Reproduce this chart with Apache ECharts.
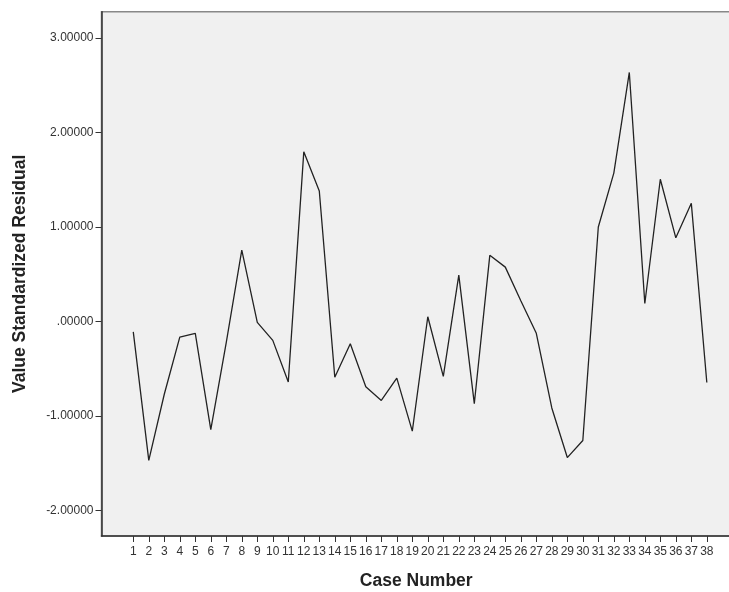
<!DOCTYPE html>
<html>
<head>
<meta charset="utf-8">
<script src="https://cdn.jsdelivr.net/npm/echarts@6/dist/echarts.min.js"></script>
<style>html,body{margin:0;padding:0;background:#fff;}#c{width:729px;height:592px;}</style>
</head>
<body>
<div id="c"></div>
<script>
var caseNumbers = [1,2,3,4,5,6,7,8,9,10,11,12,13,14,15,16,17,18,19,20,21,22,23,24,25,26,27,28,29,30,31,32,33,34,35,36,37,38];
var residuals = [-0.11,-1.47,-0.77,-0.165,-0.125,-1.145,-0.22,0.755,-0.01,-0.20,-0.64,1.795,1.38,-0.59,-0.235,-0.69,-0.835,-0.60,-1.16,0.05,-0.58,0.49,-0.87,0.70,0.575,0.22,-0.125,-0.915,-1.44,-1.26,1.00,1.57,2.635,0.19,1.505,0.885,1.25,-0.645];
var yTicks = [-2,-1,0,1,2,3];

var chart = echarts.init(document.getElementById('c'), null, {renderer:'canvas'});
var fontFam = '"Liberation Sans", Arial, sans-serif';
chart.setOption({
  animation:false,
  backgroundColor:'#ffffff',
  grid:{left:101.5, top:11.7, bottom:56, right:-2, outerBoundsMode:'none', containLabel:false, show:true, backgroundColor:'#f0f0f0', borderColor:'#888888', borderWidth:1.5},
  xAxis:{
    type:'value', min:-1.05, max:39.56,
    name:'Case Number', nameLocation:'middle', nameGap:36,
    nameTextStyle:{fontFamily:fontFam, fontSize:17.5, fontWeight:'bold', color:'#222'},
    axisLine:{show:true, onZero:false, lineStyle:{color:'#333', width:1.5}},
    axisTick:{show:true, length:6, lineStyle:{color:'#333'}, customValues:caseNumbers},
    axisLabel:{customValues:caseNumbers, fontFamily:fontFam, fontSize:12, color:'#333', margin:10},
    splitLine:{show:false}
  },
  yAxis:{
    type:'value', min:-2.27, max:3.278,
    name:'Value Standardized Residual', nameLocation:'middle', nameGap:72,
    nameTextStyle:{fontFamily:fontFam, fontSize:17.5, fontWeight:'bold', color:'#222'},
    axisLine:{show:true, onZero:false, lineStyle:{color:'#333', width:1.5}},
    axisTick:{show:true, length:6, lineStyle:{color:'#333'}, customValues:yTicks},
    axisLabel:{customValues:yTicks, fontFamily:fontFam, fontSize:12, color:'#333', margin:8,
      formatter:function(v){var s=Number(v).toFixed(5); return s.replace(/^0\./,'.').replace(/^-0\./,'-.');}},
    splitLine:{show:false}
  },
  series:[{
    type:'line',
    data:caseNumbers.map(function(c,i){return [c, residuals[i]];}),
    showSymbol:false, symbol:'none',
    lineStyle:{color:'#222', width:1.3},
    silent:true
  }]
});
</script>
</body>
</html>
